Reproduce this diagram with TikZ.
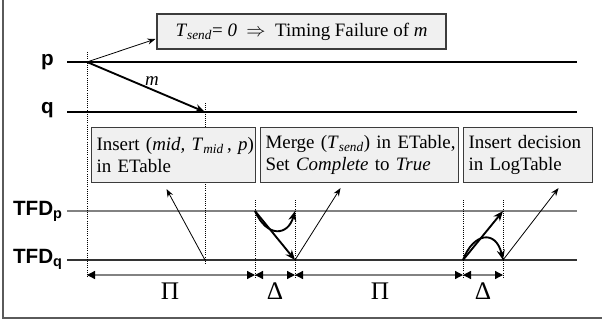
\documentclass[tikz,border=0pt]{standalone}
\usepackage{fontspec}
\setmainfont{Liberation Serif}
\newfontfamily\lblfont{Liberation Sans}
\usepackage{tikz}
\usepackage{xcolor}
\usetikzlibrary{arrows.meta, calc}

\definecolor{boxfill}{RGB}{240,240,240}
\definecolor{boxline}{RGB}{60,60,60}
\definecolor{tfdgray}{RGB}{130,130,130}
\definecolor{framegray}{RGB}{90,90,90}

\begin{document}
\begin{tikzpicture}[x=0.75pt,y=0.75pt,yscale=-1,xscale=1,
  txt/.style={font=\fontsize{14.2}{16}\selectfont},
  procbox/.style={txt, draw=boxline, fill=boxfill, line width=0.8, inner xsep=3.75pt, inner ysep=2pt, align=left, minimum height=41.25pt, anchor=north west},
  lbl/.style={font=\lblfont\bfseries\fontsize{15.5}{18}\selectfont, inner sep=0, anchor=east},
  greek/.style={font=\fontsize{19}{20}\selectfont},
  tline/.style={line width=0.8},
  guide/.style={densely dotted, line width=0.6},
  msg/.style={line width=0.6, -{Stealth[length=6pt,width=4.5pt]}},
  heavy/.style={line width=1.4, -{Stealth[length=7.5pt,width=6pt]}},
  span/.style={tfdgray, line width=1, {Triangle[black,length=6pt,width=6pt]}-{Triangle[black,length=6pt,width=6pt]}}]
\useasboundingbox (0,0) rectangle (602,325);

%Frame
\draw [framegray, line width=1.1] (3,0) -- (3,318) -- (602,318) ;

%Process lines
\node [lbl] (lp) at (54,62) {p};
\node [lbl] (lq) at (54,110) {q};
\node [lbl] (ltp) at (63,211) {TFD\textsubscript{p}};
\node [lbl] (ltq) at (63,259) {TFD\textsubscript{q}};
\draw [tline] (67,62) -- (577,62) ;
\draw [tline] (67,112) -- (577,112) ;
\draw [tline, tfdgray] (67,211) -- (577,211) ;
\draw [tline, black!80] (67,260) -- (577,260) ;

%Dotted guides
\foreach \gx/\gtop/\gbot in {87/52/278, 205/103/265, 255/200/278, 295/200/278, 463/200/278, 503/200/278}
  \draw [guide] (\gx,\gtop) -- (\gx,\gbot) ;

%Event points
\coordinate (s0) at (87,62);
\coordinate (r0) at (205,112);
\coordinate (tq1) at (205,260);
\coordinate (dp1) at (255,211);
\coordinate (dp1e) at (295,211);
\coordinate (dq1) at (295,260);
\coordinate (dq2) at (463,260);
\coordinate (dp2) at (503,211);
\coordinate (dq2e) at (503,260);

%Boxes
\node [txt, draw=boxline, fill=boxfill, line width=0.8, minimum width=216.75pt, minimum height=26.25pt, inner sep=2pt] (fbox) at (301.5,31.5)
  {\textit{T}\textsubscript{\textit{send}}= \textit{0}\ \ $\Rightarrow$\ \ Timing Failure of \textit{m}};
\node [procbox, minimum width=123pt, text width=115.5pt] (box1) at (91,127)
  {\mbox{Insert (\textit{mid, T}\textsubscript{\textit{mid}}\,, \textit{p})}\\in ETable};
\node [procbox, minimum width=148.5pt, text width=141pt] (box2) at (260,127)
  {\mbox{Merge (\textit{T}\textsubscript{\textit{send}}) in ETable,}\\\mbox{Set \textit{Complete} to \textit{True}}};
\node [procbox, minimum width=96.75pt, text width=89.25pt] (box3) at (463,127)
  {\mbox{Insert decision}\\in LogTable};

%Messages
\draw [msg] (s0) -- ($(fbox.west)+(-1,7.5)$) ;
\draw [heavy] (s0) -- node [txt, pos=0.55, above, inner sep=2.5pt] {\textit{m}} (r0) ;
\draw [msg] (tq1) -- ($(box1.south)+(-7,6)$) ;
\draw [msg] (dq1) -- ($(box2.south)+(-19,5)$) ;
\draw [msg] (dq2e) -- ($(box3.south)+(30.5,5)$) ;

%Detector exchanges
\draw [heavy] (dp1) -- (dq1) ;
\draw [heavy] (dp1) .. controls (267,238) and (288,236) .. (dp1e) ;
\draw [heavy] (dq2) -- (dp2) ;
\draw [heavy] (dq2) .. controls (473,233) and (496,229) .. (dq2e) ;

%Intervals
\coordinate (m0) at (87,275);
\coordinate (m1) at (255,275);
\coordinate (m2) at (295,275);
\coordinate (m3) at (463,275);
\coordinate (m4) at (503,275);
\draw [span] (m0) -- (m1) ;
\draw [span] (m1) -- (m2) ;
\draw [span] (m2) -- (m3) ;
\draw [span] (m3) -- (m4) ;
\node [greek] (pi1) at (170,291) {Π};
\node [greek] (de1) at (275,291) {Δ};
\node [greek] (pi2) at (380,291) {Π};
\node [greek] (de2) at (483,291) {Δ};

\end{tikzpicture}
\end{document}
